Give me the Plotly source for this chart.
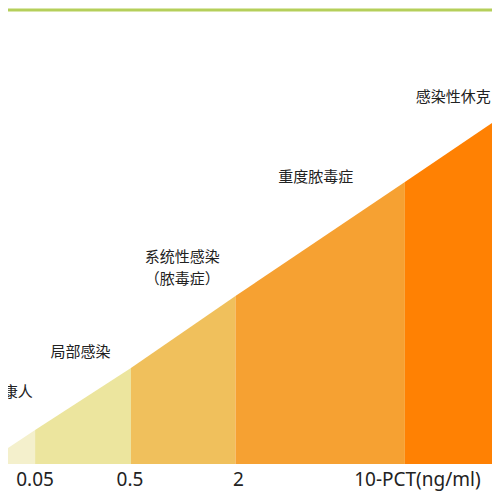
import plotly.graph_objects as go

# segment boundaries (pixel-like units) and top heights
edges = [0, 28, 127, 235, 410, 500]
tops = [60, 78, 140, 212, 326, 385]
base = 44
colors = ["#f4f0cc", "#ece59e", "#f0c05c", "#f6a132", "#ff8103"]

tick_x = [28, 126, 238, 423]
tick_text = ["0.05", "0.5", "2", "10-PCT(ng/ml)"]

stage_x = [10, 75, 180, 180, 318, 460]
stage_y = [115, 155, 250, 228, 330, 410]
stage_text = ["康人", "局部感染", "系统性感染", "（脓毒症）", "重度脓毒症", "感染性休克"]

fig = go.Figure()
for i, c in enumerate(colors):
    x0, x1 = edges[i], edges[i + 1]
    fig.add_trace(go.Scatter(
        x=[x0, x1, x1, x0, x0], y=[base, base, tops[i + 1], tops[i], base],
        fill="toself", fillcolor=c, mode="lines", line=dict(width=0),
        hoverinfo="skip", showlegend=False,
    ))

fig.add_trace(go.Scatter(x=tick_x, y=[27] * 4, text=tick_text, mode="text",
                         textfont=dict(size=19, color="#222", family="Noto Sans"),
                         showlegend=False))
fig.add_trace(go.Scatter(x=stage_x, y=stage_y, text=stage_text, mode="text",
                         textfont=dict(size=15, color="#222", family="Noto Sans CJK SC"),
                         cliponaxis=False, showlegend=False))

fig.add_shape(type="line", x0=0, x1=500, y0=498, y1=498, line=dict(color="#b5cf5a", width=3))
fig.add_shape(type="line", x0=0, x1=500, y0=2, y1=2, line=dict(color="#b5cf5a", width=3))

fig.update_layout(
    autosize=True, height=500, margin=dict(l=0, r=0, t=0, b=0),
    plot_bgcolor="white", paper_bgcolor="white",
    xaxis=dict(range=[0, 500], visible=False),
    yaxis=dict(range=[0, 500], visible=False),
)
fig.write_html("out.html", default_width="100%", default_height="100%",
               config={"responsive": True, "displayModeBar": False})
